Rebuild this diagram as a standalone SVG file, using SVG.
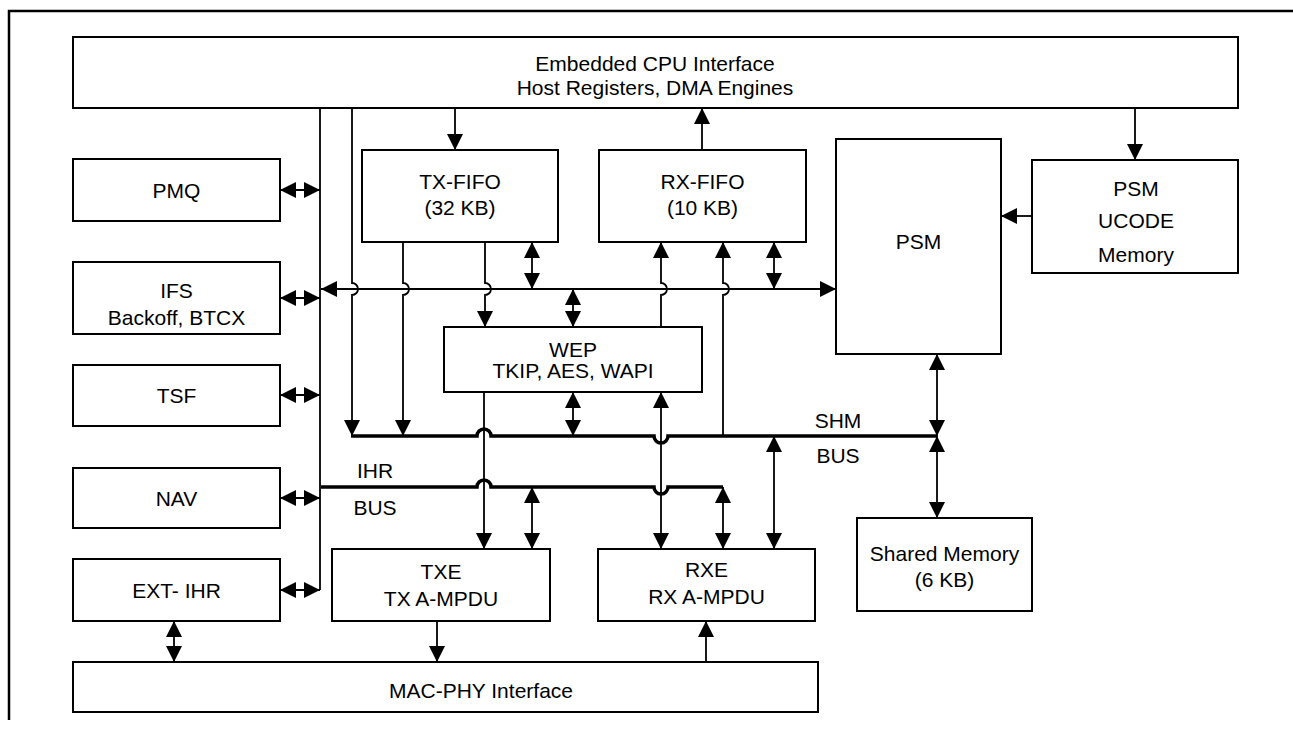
<svg xmlns="http://www.w3.org/2000/svg" width="1293" height="734" viewBox="0 0 1293 734">
<defs>
<marker id="ah" markerUnits="userSpaceOnUse" markerWidth="16" markerHeight="16" refX="16" refY="8" orient="auto-start-reverse" viewBox="0 0 16 16">
<path d="M0,0 L16,8 L0,16 z" fill="#000"/>
</marker>
<style>
.box{fill:#fff;stroke:#000;stroke-width:2}
.t{font-family:"Liberation Sans",Arial,sans-serif;font-size:21px;fill:#000;text-anchor:middle}
.c{fill:none;stroke:#000;stroke-width:1.8}
.a{marker-end:url(#ah)}
.d{marker-start:url(#ah);marker-end:url(#ah)}
.bus{fill:none;stroke:#000;stroke-width:3.5}
</style>
</defs>
<rect width="1293" height="734" fill="#fff"/>
<path d="M9,720 V11 H1293" fill="none" stroke="#000" stroke-width="2.5"/>

<g id="cpu"><rect class="box" x="73" y="37" width="1165" height="71"/>
<text class="t" x="655" y="71">Embedded CPU Interface</text>
<text class="t" x="655" y="95">Host Registers, DMA Engines</text></g>

<g id="pmq"><rect class="box" x="73" y="159" width="207" height="62"/><text class="t" x="176.5" y="198">PMQ</text></g>
<g id="ifs"><rect class="box" x="73" y="262" width="207" height="72"/><text class="t" x="176.5" y="298">IFS</text><text class="t" x="176.5" y="325">Backoff, BTCX</text></g>
<g id="tsf"><rect class="box" x="73" y="365" width="207" height="61"/><text class="t" x="176.5" y="403">TSF</text></g>
<g id="nav"><rect class="box" x="73" y="468" width="207" height="60"/><text class="t" x="176.5" y="505.5">NAV</text></g>
<g id="extihr"><rect class="box" x="73" y="559" width="207" height="62"/><text class="t" x="176.5" y="597.5">EXT- IHR</text></g>

<g id="txfifo"><rect class="box" x="362" y="150" width="196" height="92"/><text class="t" x="460" y="189">TX-FIFO</text><text class="t" x="460" y="215">(32 KB)</text></g>
<g id="rxfifo"><rect class="box" x="599" y="150" width="207" height="92"/><text class="t" x="702.5" y="189">RX-FIFO</text><text class="t" x="702.5" y="215">(10 KB)</text></g>
<g id="wep"><rect class="box" x="444" y="327" width="258" height="65"/><text class="t" x="573" y="357">WEP</text><text class="t" x="573" y="378">TKIP, AES, WAPI</text></g>
<g id="psm"><rect class="box" x="836" y="139" width="165" height="215"/><text class="t" x="918.5" y="249">PSM</text></g>
<g id="ucode"><rect class="box" x="1032" y="160" width="206" height="113"/><text class="t" x="1136" y="196">PSM</text><text class="t" x="1136" y="228">UCODE</text><text class="t" x="1136" y="262">Memory</text></g>
<g id="shmem"><rect class="box" x="857" y="518" width="175" height="93"/><text class="t" x="944.5" y="561">Shared Memory</text><text class="t" x="944.5" y="587">(6 KB)</text></g>
<g id="txe"><rect class="box" x="332" y="549" width="218" height="72"/><text class="t" x="441" y="579">TXE</text><text class="t" x="441" y="606">TX A-MPDU</text></g>
<g id="rxe"><rect class="box" x="598" y="549" width="217" height="72"/><text class="t" x="706.5" y="577">RXE</text><text class="t" x="706.5" y="604">RX A-MPDU</text></g>
<g id="macphy"><rect class="box" x="73" y="662" width="745" height="50"/><text class="t" x="481" y="698">MAC-PHY Interface</text></g>

<g id="buslabels">
<text class="t" x="838" y="428">SHM</text><text class="t" x="838" y="463">BUS</text>
<text class="t" x="375" y="478">IHR</text><text class="t" x="375" y="515">BUS</text>
</g>

<g id="connectors">
<!-- vertical backbone -->
<path class="c" d="M320,108 V590"/>
<!-- left double arrows -->
<path class="c d" d="M280,190 H320"/>
<path class="c d" d="M280,298 H320"/>
<path class="c d" d="M280,395 H320"/>
<path class="c d" d="M280,498 H320"/>
<path class="c d" d="M280,590 H320"/>
<!-- horizontal line at 289 -->
<path class="c d" d="M321,289 H836"/>
<!-- verticals with hops -->
<path class="c a" d="M352,108 V283 A6,6 0 0 1 352,295 V436"/>
<path class="c a" d="M403,242 V283 A6,6 0 0 1 403,295 V436"/>
<path class="c a" d="M485,242 V283 A6,6 0 0 1 485,295 V327"/>
<path class="c a" d="M661,327 V295 A6,6 0 0 0 661,283 V242"/>
<path class="c a" d="M723,436 V295 A6,6 0 0 0 723,283 V242"/>
<!-- CPU links -->
<path class="c a" d="M455,108 V150"/>
<path class="c a" d="M702,150 V108"/>
<path class="c a" d="M1135,108 V160"/>
<path class="c a" d="M1032,216 H1001"/>
<!-- double arrows around 289 -->
<path class="c d" d="M532,242 V289"/>
<path class="c d" d="M573,289 V327"/>
<path class="c d" d="M774,242 V289"/>
<!-- buses -->
<path class="bus" d="M351,436 H477 A7,7 0 0 1 491,436 H654 A7,7 0 0 0 668,436 H937"/>
<path class="bus" d="M321,487 H477 A7,7 0 0 1 491,487 H654 A7,7 0 0 0 668,487 H723"/>
<!-- WEP lower -->
<path class="c d" d="M573,392 V436"/>
<path class="c a" d="M484,392 V549"/>
<path class="c d" d="M661,392 V549"/>
<!-- bus to TXE/RXE -->
<path class="c d" d="M532,487 V549"/>
<path class="c d" d="M723,487 V549"/>
<path class="c d" d="M774,436 V549"/>
<!-- PSM / shared memory -->
<path class="c d" d="M937,354 V436"/>
<path class="c d" d="M937,436 V518"/>
<!-- MAC-PHY -->
<path class="c a" d="M437,621 V662"/>
<path class="c a" d="M706,662 V621"/>
<path class="c d" d="M174,621 V662"/>
</g>
</svg>
